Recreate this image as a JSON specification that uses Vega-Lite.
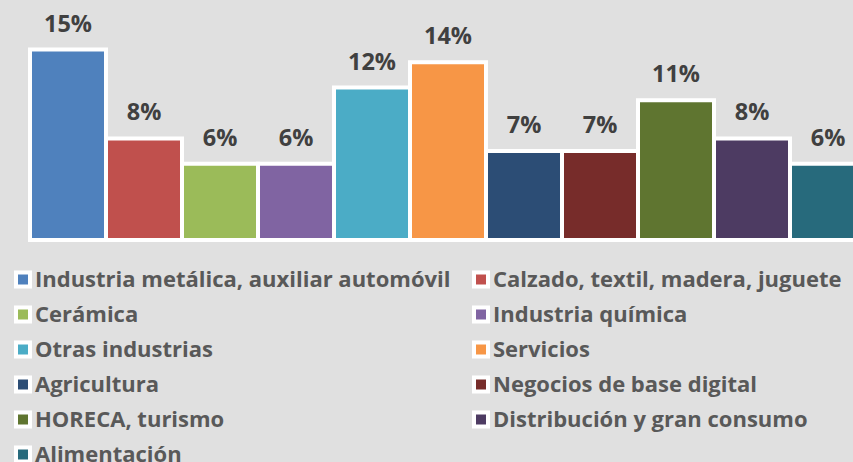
{
  "$schema": "https://vega.github.io/schema/vega-lite/v6.json",
  "width": 836,
  "height": 240,
  "autosize": {"type": "none"},
  "padding": {"left": 30, "top": 0, "right": 0, "bottom": 222},
  "background": "#e0e0e0",
  "config": {"view": {"stroke": null}},
  "data": {
    "values": [
      {"sector": "Industria metálica, auxiliar automóvil", "pct": 0.15},
      {"sector": "Calzado, textil, madera, juguete", "pct": 0.08},
      {"sector": "Cerámica", "pct": 0.06},
      {"sector": "Industria química", "pct": 0.06},
      {"sector": "Otras industrias", "pct": 0.12},
      {"sector": "Servicios", "pct": 0.14},
      {"sector": "Agricultura", "pct": 0.07},
      {"sector": "Negocios de base digital", "pct": 0.07},
      {"sector": "HORECA, turismo", "pct": 0.11},
      {"sector": "Distribución y gran consumo", "pct": 0.08},
      {"sector": "Alimentación", "pct": 0.06}
    ]
  },
  "encoding": {
    "x": {"field": "sector", "type": "nominal", "sort": null, "axis": null, "scale": {"paddingInner": 0, "paddingOuter": 0}},
    "y": {"field": "pct", "type": "quantitative", "axis": null, "scale": {"domain": [0, 0.189], "nice": false}}
  },
  "layer": [
    {
      "mark": {"type": "bar", "stroke": "white", "strokeWidth": 4},
      "encoding": {
        "color": {
          "field": "sector", "type": "nominal", "sort": null,
          "scale": {"range": ["#4F81BD", "#C0504D", "#9BBB59", "#8064A2", "#4BACC6", "#F79646", "#2C4D75", "#772C2A", "#5F7530", "#4D3B62", "#276A7C"]},
          "legend": {
            "title": null,
            "orient": "none",
            "direction": "horizontal",
            "legendX": -18,
            "legendY": 268.5,
            "columns": 2,
            "symbolType": "square",
            "symbolSize": 196,
            "symbolStrokeColor": "white",
            "symbolStrokeWidth": 4,
            "symbolOpacity": 1,
            "labelFont": "Open Sans",
            "labelFontWeight": "bold",
            "labelFontSize": 22,
            "labelColor": "#595959",
            "labelLimit": 0,
            "labelOffset": 1,
            "rowPadding": 5,
            "columnPadding": 15
          }
        }
      }
    },
    {
      "mark": {"type": "text", "dy": -18, "baseline": "alphabetic", "font": "Open Sans", "fontWeight": "bold", "fontSize": 23.5, "color": "#404040"},
      "encoding": {"text": {"field": "pct", "type": "quantitative", "format": ".0%"}}
    }
  ]
}
